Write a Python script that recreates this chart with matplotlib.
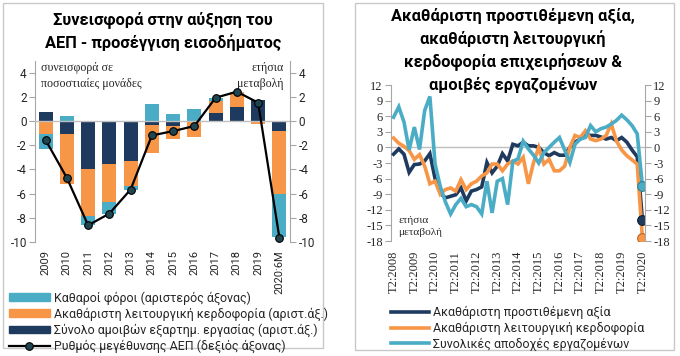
import numpy as np
import matplotlib
matplotlib.use('Agg')
import matplotlib.pyplot as plt
from matplotlib.patches import Patch, Rectangle
from matplotlib.lines import Line2D

plt.rcParams['axes.unicode_minus'] = False

# ---------------- data: left chart (contributions, pp) ----------------
years = ['2009', '2010', '2011', '2012', '2013', '2014', '2015', '2016',
         '2017', '2018', '2019', '2020:6M']
comp_contrib = [0.72, -1.08, -3.95, -3.59, -3.31, -0.36, -0.41, 0.0,
                0.64, 1.13, 1.71, -0.83]
gos_contrib = [-1.08, -4.09, -3.92, -3.09, -2.04, -2.24, -1.05, -1.35,
               1.02, 1.30, -0.25, -5.22]
tax_contrib = [-1.24, 0.41, -0.75, -1.00, -0.36, 1.38, 0.55, 0.97,
               0.22, 0.0, 0.0, -3.54]
gdp_growth = [-1.57, -4.70, -8.62, -7.65, -5.66, -1.19, -0.83, -0.41,
              1.93, 2.43, 1.52, -9.64]

# ---------------- data: right chart (y-o-y %, quarterly) ----------------
quarter_ticks = ['T2:2008', 'T2:2009', 'T2:2010', 'T2:2011', 'T2:2012',
                 'T2:2013', 'T2:2014', 'T2:2015', 'T2:2016', 'T2:2017',
                 'T2:2018', 'T2:2019', 'T2:2020']
gva = [-1.3, -0.3, -1.3, -4.8, -3.3, -3.2, -2.6, -1.2,
       -6.0, -8.8, -9.7, -9.4, -9.1, -7.8, -10.3, -8.4,
       -8.1, -7.6, -2.9, -4.9, -3.6, -1.2, -2.6, 0.6,
       0.3, 1.0, 0.3, 0.3, 0.0, -1.0, -1.6, -1.0,
       -1.5, -1.5, 0.0, 1.0, 1.6, 2.5, 2.3, 2.3,
       2.0, 1.6, 1.9, 1.3, 1.9, 1.0, -0.5, -1.8,
       -14.0]
gos = [1.8, 0.8, 0.2, -0.6, -2.3, -1.4, -3.6, -7.0,
       -6.5, -9.0, -8.1, -7.8, -8.4, -6.2, -8.1, -7.0,
       -6.5, -5.5, -4.9, -3.2, -3.2, -4.5, -3.2, -2.6,
       -3.2, -1.9, -7.0, -2.9, 0.0, -3.2, -2.3, -4.5,
       -4.5, -3.6, 0.0, 2.3, 1.9, 3.2, 1.6, 1.3,
       1.6, 2.3, 4.5, 1.2, -0.5, -1.6, -2.4, -3.2,
       -17.5]
comp = [5.8, 7.8, 4.9, -0.5, 3.9, -0.4, 7.1, 9.8,
        -3.2, -7.5, -10.5, -12.8, -11.0, -9.8, -11.4, -11.0,
        -11.4, -12.8, -6.5, -12.6, -6.5, -6.0, -11.0, -2.7,
        -2.2, 1.2, -0.3, -1.5, -3.0, -1.0, 0.0, 1.0,
        1.9, -0.5, -2.9, 0.6, 1.6, 1.9, 4.2, 3.0,
        3.6, 3.9, 4.5, 5.2, 6.2, 5.3, 4.2, 2.6,
        -7.4]

NAVY = '#1F3A5F'
ORANGE = '#F79646'
TEAL = '#4BACC6'
GRAY = '#A6A6A6'
TXT = '#262626'
SANS = ['Roboto', 'DejaVu Sans']
SERIF = ['Liberation Serif', 'DejaVu Serif']

W, H = 680, 356
fig = plt.figure(figsize=(W / 100, H / 100), dpi=100)


def fx(px):
    return px / W


def fy(py):
    return 1 - py / H


# panel borders
for (x0, y0, x1, y1) in [(3, 3, 323, 348), (355, 3, 674, 350)]:
    fig.add_artist(Rectangle((fx(x0), fy(y1)), fx(x1 - x0), (y1 - y0) / H,
                             transform=fig.transFigure, fill=False,
                             edgecolor='#C8C8C8', lw=1))

# ======================= LEFT CHART =======================
axL = fig.add_axes([fx(35), fy(242), fx(255), (242 - 60.6) / H])
x = np.arange(len(years))
series = [(comp_contrib, NAVY), (gos_contrib, ORANGE), (tax_contrib, TEAL)]
pos_base = np.zeros(len(years))
neg_base = np.zeros(len(years))
for vals, col in series:
    v = np.array(vals)
    base = np.where(v >= 0, pos_base, neg_base)
    axL.bar(x, v, bottom=base, width=0.66, color=col, zorder=2)
    pos_base = pos_base + np.where(v >= 0, v, 0)
    neg_base = neg_base + np.where(v < 0, v, 0)
axL.axhline(0, color='#BFBFBF', lw=1, zorder=3)
axL.set_xlim(-0.5, len(years) - 0.5)
axL.set_ylim(-10, 5)
axL.set_yticks(np.arange(-10, 5, 2))
axL.set_xticks(x)
axL.set_xticklabels(years, rotation=90, fontsize=8, family=SANS, color=TXT)
axL.tick_params(axis='x', length=0, pad=6)
axL.tick_params(axis='y', length=4, color=GRAY, labelsize=8.5, labelcolor=TXT, pad=2)
for lab in axL.get_yticklabels():
    lab.set_family(SANS)
for s in ['top', 'bottom', 'right']:
    axL.spines[s].set_visible(False)
axL.spines['left'].set_color(GRAY)

axL2 = axL.twinx()
axL2.set_ylim(-10, 5)
axL2.set_yticks(np.arange(-10, 5, 2))
axL2.plot(x, gdp_growth, color='black', lw=1.6, marker='o', ms=5.5,
          mfc='#1E4550', mec='black', mew=0.8, zorder=5)
axL2.tick_params(axis='y', length=4, color=GRAY, labelsize=8.5, labelcolor=TXT, pad=2)
for lab in axL2.get_yticklabels():
    lab.set_family(SANS)
for s in ['top', 'bottom', 'left']:
    axL2.spines[s].set_visible(False)
axL2.spines['right'].set_color(GRAY)

axL.text(0.022, 0.99, 'συνεισφορά σε\nποσοστιαίες μονάδες', transform=axL.transAxes,
         ha='left', va='top', fontsize=8.6, family=SERIF, color=TXT, linespacing=1.4)
axL.text(0.975, 0.99, 'ετήσια\nμεταβολή', transform=axL.transAxes,
         ha='right', va='top', fontsize=8.6, family=SERIF, color=TXT, linespacing=1.4)

fig.text(fx(163), fy(31.5), 'Συνεισφορά στην αύξηση του\nΑΕΠ - προσέγγιση εισοδήματος',
         ha='center', va='center', fontsize=11.8, fontweight='bold', family=SANS,
         color='black', linespacing=1.45)

handlesL = [Patch(color=TEAL), Patch(color=ORANGE), Patch(color=NAVY),
            Line2D([], [], color='black', lw=1.6, marker='o', ms=5.5,
                   mfc='#1E4550', mec='black', mew=0.8)]
labelsL = ['Καθαροί φόροι (αριστερός άξονας)',
           'Ακαθάριστη λειτουργική κερδοφορία (αριστ.άξ.)',
           'Σύνολο αμοιβών εξαρτημ. εργασίας (αριστ.άξ.)',
           'Ρυθμός μεγέθυνσης ΑΕΠ (δεξιός άξονας)']
legL = fig.legend(handlesL, labelsL, loc='upper left',
                  bbox_to_anchor=(fx(9), fy(291)), frameon=False,
                  prop={'family': SANS, 'size': 8.9}, handlelength=3.3,
                  handleheight=0.55, handletextpad=0.3, labelspacing=0.2,
                  borderpad=0, borderaxespad=0)
for t in legL.get_texts():
    t.set_color(TXT)

# ======================= RIGHT CHART =======================
axR = fig.add_axes([fx(391), fy(241), fx(254), 156 / H])
q = np.arange(len(gva))
for vals, col in [(gva, NAVY), (gos, ORANGE), (comp, TEAL)]:
    axR.plot(q, vals, color=col, lw=2.6, solid_joinstyle='miter', zorder=3)
for vals, col, ec in [(comp, TEAL, '#2E7F95'), (gva, NAVY, '#0F1F33'), (gos, ORANGE, '#B8652A')]:
    axR.plot(q[-1:], vals[-1:], 'o', ms=7, mfc=col, mec=ec, mew=0.8, zorder=4)
axR.axhline(0, color='#BFBFBF', lw=1, zorder=1)
axR.set_xlim(-0.5, len(gva) - 0.5)
axR.set_ylim(-18, 12)
yt = np.arange(-18, 13, 3)
axR.set_yticks(yt)
axR.set_xticks(np.arange(0, len(gva), 4))
axR.set_xticklabels(quarter_ticks, rotation=90, fontsize=9, family=SERIF, color=TXT)
axR.tick_params(axis='x', length=0, pad=7)
axR.tick_params(axis='y', length=4, color=GRAY, labelsize=9, labelcolor=TXT, pad=2)
for lab in axR.get_yticklabels():
    lab.set_family(SERIF)
for s in ['top', 'bottom', 'right']:
    axR.spines[s].set_visible(False)
axR.spines['left'].set_color(GRAY)

axR2 = axR.twinx()
axR2.set_ylim(-18, 12)
axR2.set_yticks(yt)
axR2.tick_params(axis='y', length=4, color=GRAY, labelsize=9, labelcolor=TXT, pad=2)
for lab in axR2.get_yticklabels():
    lab.set_family(SERIF)
for s in ['top', 'bottom', 'left']:
    axR2.spines[s].set_visible(False)
axR2.spines['right'].set_color(GRAY)

axR.text(0.03, 0.025, 'ετήσια\nμεταβολή', transform=axR.transAxes,
         ha='left', va='bottom', fontsize=8.2, family=SERIF, color=TXT, linespacing=1.5)

fig.text(fx(513), fy(50.5), 'Ακαθάριστη προστιθέμενη αξία,\nακαθάριστη λειτουργική\n'
         'κερδοφορία επιχειρήσεων &\nαμοιβές εργαζομένων',
         ha='center', va='center', fontsize=11.8, fontweight='bold', family=SANS,
         color='black', linespacing=1.47)

handlesR = [Line2D([], [], color=NAVY, lw=2.6), Line2D([], [], color=ORANGE, lw=2.6),
            Line2D([], [], color=TEAL, lw=2.6)]
labelsR = ['Ακαθάριστη προστιθέμενη αξία', 'Ακαθάριστη λειτουργική κερδοφορία',
           'Συνολικές αποδοχές εργαζομένων']
legR = fig.legend(handlesR, labelsR, loc='upper left',
                  bbox_to_anchor=(fx(391), fy(306)), frameon=False,
                  prop={'family': SANS, 'size': 8.9}, handlelength=3.1,
                  handletextpad=0.3, labelspacing=0.2, borderpad=0, borderaxespad=0)
for t in legR.get_texts():
    t.set_color(TXT)

fig.savefig('out.png', dpi=100)
